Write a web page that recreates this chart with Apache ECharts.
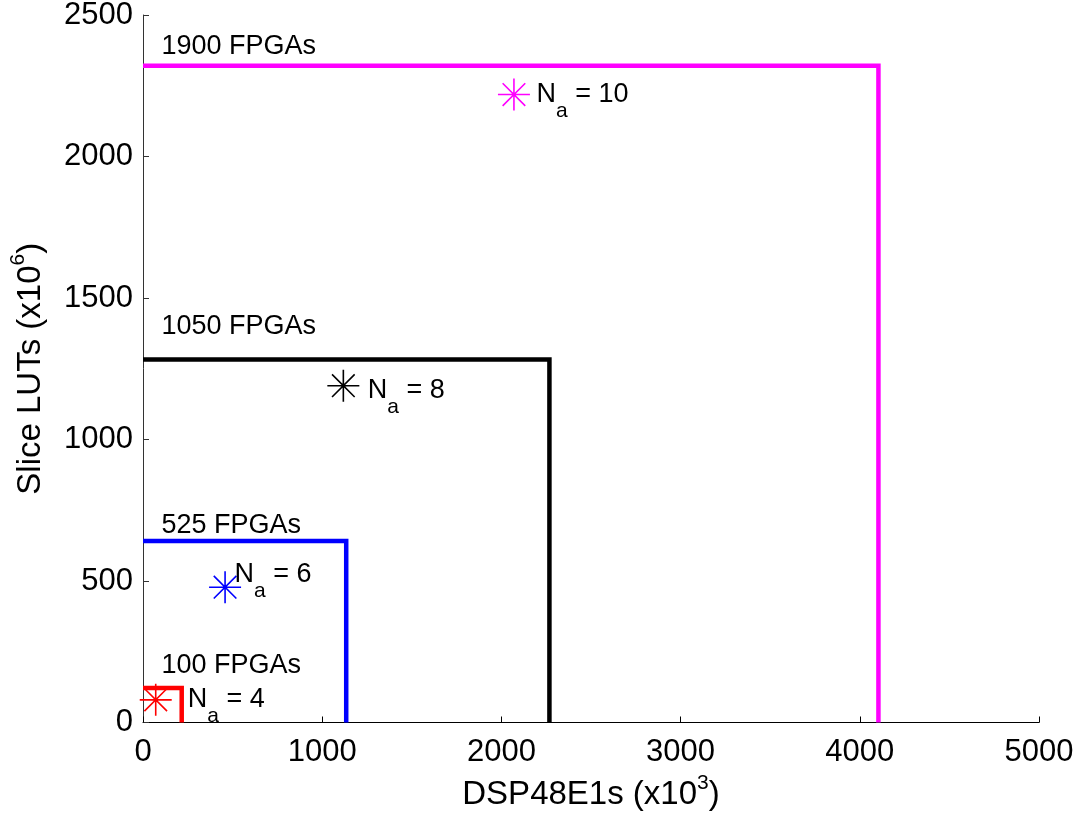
<!DOCTYPE html>
<html>
<head>
<meta charset="utf-8">
<script src="https://cdn.jsdelivr.net/npm/echarts@6/dist/echarts.min.js"></script>
<style>
  html, body { margin: 0; padding: 0; background: #ffffff; }
  #chart { width: 1081px; height: 819px; }
</style>
</head>
<body>
<div id="chart"></div>
<script>
// FPGA cluster sizes and the total resources they provide
const fpgaCounts = [100, 525, 1050, 1900];
const dspTotals = [216, 1134, 2268, 4104];     // DSP48E1s (x10^3)
const lutTotals = [122, 641, 1283, 2321];      // Slice LUTs (x10^6)
const groupColors = ['#ff0000', '#0000ff', '#000000', '#ff00ff'];

// Resource requirement for each antenna count N_a
const naValues = [4, 6, 8, 10];
const starDsp = [71, 458, 1118, 2070];
const starLut = [80, 478, 1190, 2219];

// Annotation anchors (data units)
const naLabelDsp = [247, 508, 1252, 2193];
const naLabelLut = [80, 522, 1172, 2219];
const fpgaLabelDsp = [100, 100, 100, 100];
const fpgaLabelLut = [200, 695, 1400, 2390];

// Axis ranges and ticks
const xRange = [0, 5000];
const xStep = 1000;
const yRange = [0, 2500];
const yStep = 500;

const FONT = '"Liberation Sans", Arial, Helvetica, sans-serif';

// Eight-armed asterisk marker
const STAR = 'path://M16,0V32M0,16H32M4.69,4.69L27.31,27.31M4.69,27.31L27.31,4.69';

const series = [];

fpgaCounts.forEach(function (n, i) {
  // Resource envelope: from the y axis across to the DSP total, then down to zero
  series.push({
    type: 'line',
    name: n + ' FPGAs',
    data: [[0, lutTotals[i]], [dspTotals[i], lutTotals[i]], [dspTotals[i], 0]],
    symbol: 'none',
    clip: false,
    lineStyle: { color: groupColors[i], width: 4.5, join: 'miter', cap: 'butt', opacity: 1 },
    silent: true,
    z: 3
  });
  // "N FPGAs" caption
  series.push({
    type: 'scatter',
    data: [[fpgaLabelDsp[i], fpgaLabelLut[i], n]],
    symbolSize: 1,
    itemStyle: { color: 'transparent', opacity: 1 },
    silent: true,
    label: {
      show: true,
      position: 'right',
      distance: 0,
      align: 'left',
      verticalAlign: 'middle',
      fontFamily: FONT,
      fontSize: 27,
      color: '#000',
      opacity: 1,
      formatter: function (p) { return p.value[2] + ' FPGAs'; }
    },
    z: 5
  });
});

naValues.forEach(function (na, i) {
  // Requirement marker
  series.push({
    type: 'scatter',
    data: [[starDsp[i], starLut[i]]],
    symbol: STAR,
    symbolSize: 32,
    itemStyle: { color: 'none', borderColor: groupColors[i], borderWidth: 1.6, opacity: 1 },
    silent: true,
    z: 4
  });
  // "N_a = k" caption
  series.push({
    type: 'scatter',
    data: [[naLabelDsp[i], naLabelLut[i], na]],
    symbolSize: 1,
    itemStyle: { color: 'transparent', opacity: 1 },
    silent: true,
    label: {
      show: true,
      position: 'right',
      distance: 0,
      align: 'left',
      verticalAlign: 'middle',
      color: '#000',
      opacity: 1,
      fontFamily: FONT,
      formatter: function (p) { return '{n|N}{s|a}{n| = ' + p.value[2] + '}'; },
      rich: {
        n: { fontFamily: FONT, fontSize: 27, lineHeight: 27, color: '#000' },
        s: { fontFamily: FONT, fontSize: 21, lineHeight: 21, padding: [33, 0, 0, 0], color: '#000' }
      }
    },
    z: 5
  });
});

const plainNumber = function (v) { return String(v); };

const chart = echarts.init(document.getElementById('chart'), null, { renderer: 'canvas' });

chart.setOption({
  animation: false,
  backgroundColor: '#ffffff',
  grid: { left: 143, right: 42, top: 15, bottom: 96.5, containLabel: false, outerBoundsMode: 'none' },
  xAxis: {
    type: 'value',
    min: xRange[0],
    max: xRange[1],
    interval: xStep,
    name: 'DSP48E1s (x10{sup|3})',
    nameLocation: 'middle',
    nameGap: 52,
    nameTextStyle: {
      fontFamily: FONT,
      fontSize: 33,
      color: '#000',
      rich: {
        sup: { fontFamily: FONT, fontSize: 21, lineHeight: 21, padding: [0, 0, 24, 0], color: '#000' }
      }
    },
    axisLine: { show: true, onZero: false, lineStyle: { color: '#000', width: 1 } },
    axisTick: { show: true, inside: true, length: 6, lineStyle: { color: '#000', width: 1 } },
    axisLabel: { fontFamily: FONT, fontSize: 31, color: '#000', margin: 14, formatter: plainNumber },
    splitLine: { show: false }
  },
  yAxis: {
    type: 'value',
    min: yRange[0],
    max: yRange[1],
    interval: yStep,
    name: 'Slice LUTs (x10{sup|6})',
    nameLocation: 'middle',
    nameGap: 90,
    nameTextStyle: {
      fontFamily: FONT,
      fontSize: 33,
      color: '#000',
      rich: {
        sup: { fontFamily: FONT, fontSize: 21, lineHeight: 21, padding: [0, 0, 24, 0], color: '#000' }
      }
    },
    axisLine: { show: true, onZero: false, lineStyle: { color: '#333', width: 1 } },
    axisTick: { show: true, inside: true, length: 6, lineStyle: { color: '#333', width: 1 } },
    axisLabel: { fontFamily: FONT, fontSize: 31, color: '#000', margin: 10, formatter: plainNumber },
    splitLine: { show: false }
  },
  series: series
});
</script>
</body>
</html>
